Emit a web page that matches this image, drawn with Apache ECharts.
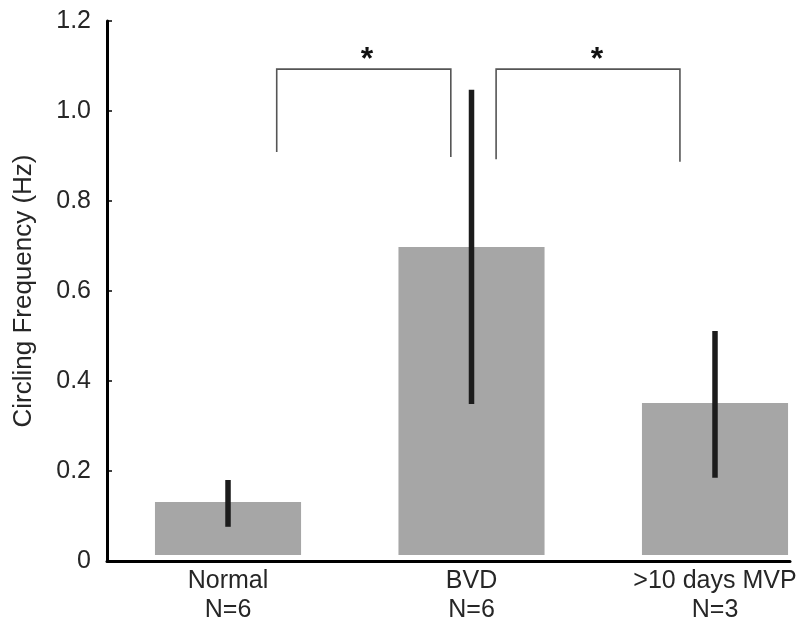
<!DOCTYPE html>
<html>
<head>
<meta charset="utf-8">
<script src="https://cdn.jsdelivr.net/npm/echarts@6/dist/echarts.min.js"></script>
<style>
html,body{margin:0;padding:0;background:#fff;}
#chart{width:804px;height:627px;}
</style>
</head>
<body>
<div id="chart"></div>
<script>
// ---- data ----
const categories = ['Normal', 'BVD', '>10 days MVP'];
const groupSizes = ['N=6', 'N=6', 'N=3'];
const means = [0.131, 0.698, 0.351];
const errLow = [0.076, 0.349, 0.185];
const errHigh = [0.180, 1.047, 0.511];
const yTicks = [0, 0.2, 0.4, 0.6, 0.8, 1.0, 1.2];
// significance brackets: [xStart, xEnd, yTop, yLeftEnd, yRightEnd] in data units
const bracketStart = [0.200, 1.101];
const bracketEnd = [0.915, 1.856];
const bracketTop = [1.093, 1.093];
const bracketLeftEnd = [0.909, 0.893];
const bracketRightEnd = [0.898, 0.887];
const starX = [0.571, 1.515];
const starY = [1.112, 1.112];
const starText = ['*', '*'];

// ---- build ----
const barData = means.map((v, i) => [i, v]);
const errData = means.map((v, i) => [i, errLow[i], errHigh[i]]);
const bracketData = bracketStart.map((s, i) => [s, bracketEnd[i], bracketTop[i], bracketLeftEnd[i], bracketRightEnd[i]]);
const starData = starX.map((x, i) => [x, starY[i], starText[i]]);

const FONT = '"Liberation Sans", Arial, Helvetica, sans-serif';
const chart = echarts.init(document.getElementById('chart'), null, {renderer: 'canvas'});

chart.setOption({
  animation: false,
  backgroundColor: '#ffffff',
  grid: {left: 107, right: 14, top: 21, bottom: 66, containLabel: false},
  xAxis: {
    type: 'value',
    min: -0.497,
    max: 2.308,
    splitLine: {show: false},
    axisTick: {show: false},
    axisLine: {show: true, onZero: false, lineStyle: {color: '#000', width: 3}},
    axisLabel: {
      customValues: [0, 1, 2],
      formatter: v => categories[Math.round(v)] + '\n' + groupSizes[Math.round(v)],
      color: '#262626',
      fontFamily: FONT,
      fontSize: 25,
      lineHeight: 29,
      margin: 6
    }
  },
  yAxis: {
    type: 'value',
    min: 0,
    max: 1.2,
    interval: 0.2,
    name: 'Circling Frequency (Hz)',
    nameLocation: 'middle',
    nameGap: 70,
    nameTextStyle: {color: '#262626', fontFamily: FONT, fontSize: 26},
    splitLine: {show: false},
    axisLine: {show: true, onZero: false, lineStyle: {color: '#000', width: 3}},
    axisTick: {show: true, inside: true, length: 5, lineStyle: {color: '#000', width: 1.5}},
    axisLabel: {
      formatter: v => (v === 0 ? '0' : v.toFixed(1)),
      color: '#262626',
      fontFamily: FONT,
      fontSize: 25,
      margin: 16
    }
  },
  series: [
    {
      type: 'custom',
      name: 'bars',
      data: barData,
      encode: {x: 0, y: 1},
      renderItem: function (params, api) {
        const x = api.value(0), v = api.value(1);
        const top = api.coord([x, v]);
        const base = api.coord([x, 0]);
        const w = api.size([0.6, 0])[0];
        return {
          type: 'rect',
          shape: {x: top[0] - w / 2, y: top[1], width: w, height: base[1] - top[1] - 6},
          style: {fill: '#a6a6a6'}
        };
      },
      z: 2
    },
    {
      type: 'custom',
      name: 'errors',
      data: errData,
      encode: {x: 0, y: [1, 2]},
      renderItem: function (params, api) {
        const x = api.value(0);
        const lo = api.coord([x, api.value(1)]);
        const hi = api.coord([x, api.value(2)]);
        return {
          type: 'line',
          shape: {x1: lo[0], y1: lo[1], x2: hi[0], y2: hi[1]},
          style: {stroke: '#1c1c1c', lineWidth: 5.5}
        };
      },
      z: 3
    },
    {
      type: 'custom',
      name: 'brackets',
      data: bracketData,
      encode: {x: [0, 1], y: [2, 3, 4]},
      renderItem: function (params, api) {
        const x1 = api.value(0), x2 = api.value(1), yt = api.value(2), yl = api.value(3), yr = api.value(4);
        return {
          type: 'polyline',
          shape: {points: [api.coord([x1, yl]), api.coord([x1, yt]), api.coord([x2, yt]), api.coord([x2, yr])]},
          style: {stroke: '#555', lineWidth: 1.6, fill: null}
        };
      },
      z: 3
    },
    {
      type: 'custom',
      name: 'stars',
      data: starData,
      encode: {x: 0, y: 1},
      renderItem: function (params, api) {
        const p = api.coord([api.value(0), api.value(1)]);
        return {
          type: 'text',
          x: p[0],
          y: p[1],
          style: {text: starText[params.dataIndex], fill: '#111', font: 'bold 32px ' + FONT, align: 'center', verticalAlign: 'middle'}
        };
      },
      z: 3
    }
  ]
});
</script>
</body>
</html>
